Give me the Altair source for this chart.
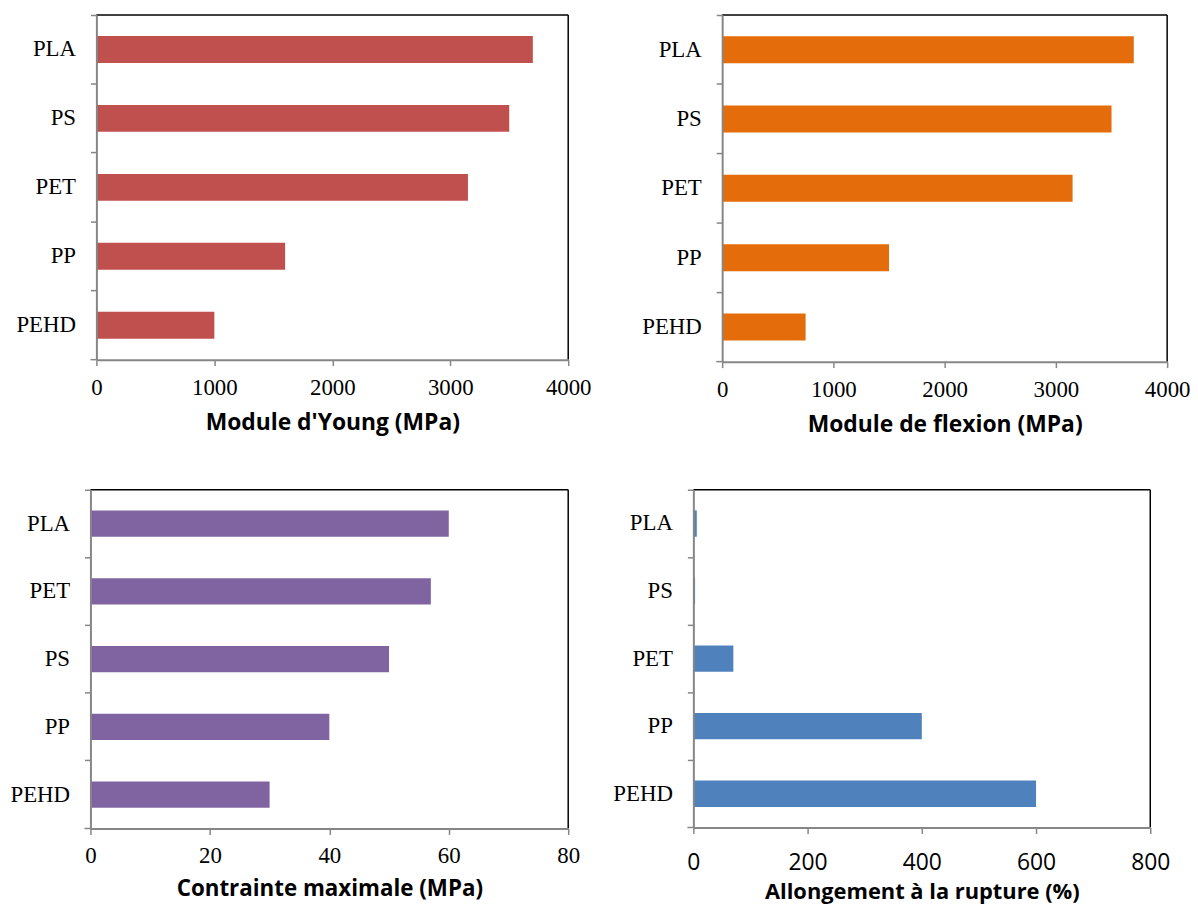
import altair as alt
import pandas as pd

# ---- data ----
cats_young = ["PLA", "PS", "PET", "PP", "PEHD"]
vals_young = [3700, 3500, 3150, 1600, 1000]

cats_flex = ["PLA", "PS", "PET", "PP", "PEHD"]
vals_flex = [3700, 3500, 3150, 1500, 750]

cats_stress = ["PLA", "PET", "PS", "PP", "PEHD"]
vals_stress = [60, 57, 50, 40, 30]

cats_elong = ["PLA", "PS", "PET", "PP", "PEHD"]
vals_elong = [6, 3, 70, 400, 600]

ticks_young = [0, 1000, 2000, 3000, 4000]
ticks_flex = [0, 1000, 2000, 3000, 4000]
ticks_stress = [0, 20, 40, 60, 80]
ticks_elong = [0, 200, 400, 600, 800]

GRAY = "#868686"


def panel(cats, vals, ticks, color, title, w, h, ext, xfont, xlabpad,
          titlepad, shift=0, title_size=23):
    df = pd.DataFrame({"cat": cats, "val": vals})
    bars = alt.Chart(df).mark_bar(
        color=color, height=alt.RelativeBandSize(band=0.39)
    ).encode(
        x=alt.X(
            "val:Q",
            scale=alt.Scale(domain=[ticks[0], ticks[-1]], nice=False,
                            range=[-shift, w]),
            axis=alt.Axis(
                values=ticks, title=title, grid=False, format="d",
                labelFont=xfont, labelPadding=xlabpad, titlePadding=titlepad,
                titleFontSize=title_size,
                labelFlush=False, labelOverlap=False, zindex=1,
            ),
        ),
        y=alt.Y(
            "cat:N", sort=cats,
            scale=alt.Scale(paddingInner=0, paddingOuter=0),
            axis=alt.Axis(
                title=None, bandPosition=0, labelPadding=15, offset=shift,
                minExtent=ext, maxExtent=ext, zindex=1,
            ),
        ),
    )
    one = pd.DataFrame({"k": [0]})
    corner = alt.Chart(one).mark_rule(color=GRAY, strokeWidth=1.5).encode(
        x=alt.value(-shift - 6), x2=alt.value(-shift), y=alt.value(h))
    top = alt.Chart(one).mark_rule(color="black", strokeWidth=1.5).encode(
        x=alt.value(-shift), x2=alt.value(w), y=alt.value(0))
    right = alt.Chart(one).mark_rule(color="black", strokeWidth=1.5).encode(
        x=alt.value(w), y=alt.value(0), y2=alt.value(h))
    return alt.layer(top, right, bars, corner).properties(width=w, height=h)


p1 = panel(cats_young, vals_young, ticks_young, "#C0504D",
           "Module d'Young (MPa)", 475, 347, 89, "Liberation Serif", 11, 12)
p2 = panel(cats_flex, vals_flex, ticks_flex, "#E46C0A",
           "Module de flexion (MPa)", 448, 349, 111, "Liberation Serif", 11, 12)
p3 = panel(cats_stress, vals_stress, ticks_stress, "#8064A2",
           "Contrainte maximale (MPa)", 475, 341, 80, "Liberation Serif", 10, 10,
           shift=6, title_size=22.5)
p4 = panel(cats_elong, vals_elong, ticks_elong, "#4F81BD",
           "Allongement à la rupture (%)", 460, 340, 80, "Open Sans", 18, 7,
           title_size=22)

chart = alt.concat(
    p1, p2, p3, p4, columns=2,
    align={"row": "all", "column": "none"},
    spacing={"row": 53, "column": 21},
).properties(
    padding={"left": 0, "top": 3, "right": 0, "bottom": 0}
).configure_view(
    stroke=None
).configure_axis(
    domainColor=GRAY, domainWidth=2, tickColor=GRAY, tickWidth=1.5, tickSize=6,
    labelColor="black", labelFont="Liberation Serif", labelFontSize=23,
    titleFont="Open Sans", titleFontWeight="bold", titleFontSize=23,
    titleColor="black",
)

chart.save("out.html", embed_options={"renderer": "svg", "actions": False})
